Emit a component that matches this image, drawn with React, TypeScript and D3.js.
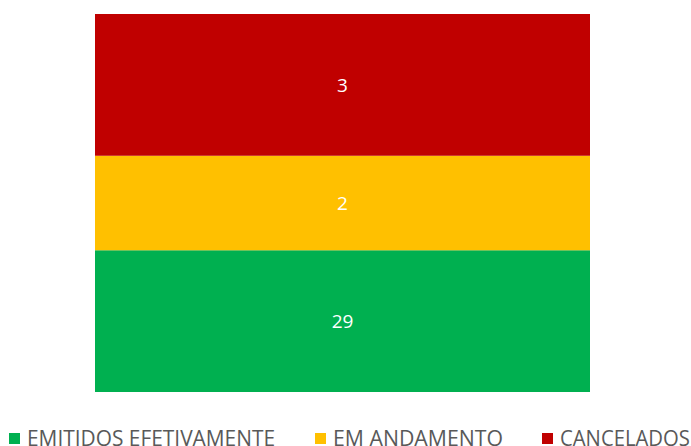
import React from "react";
import * as d3 from "d3";

const categories = ["Total"];
const seriesNames = ["EMITIDOS EFETIVAMENTE", "EM ANDAMENTO", "CANCELADOS"];
const seriesValues = [29, 2, 3];
const seriesColors = ["#00B050", "#FFC000", "#C00000"];
const axisMin = 26;
const axisMax = 34;

export default function App() {
  const W = 691, H = 446;
  const x = d3.scaleBand().domain(categories).range([95, 590]).padding(0);
  const y = d3.scaleLinear().domain([axisMin, axisMax]).range([392, 14]);
  const stacked: { name: string; y0: number; y1: number; v: number; c: string }[] = [];
  let acc = 0;
  seriesValues.forEach((v, i) => {
    stacked.push({ name: seriesNames[i], y0: acc, y1: acc + v, v, c: seriesColors[i] });
    acc += v;
  });
  const legendX = [9, 315, 542];
  const legendW = [248, 170, 130];
  return (
    <svg width={W} height={H} style={{ position: "absolute", left: 0, top: 0, fontFamily: "'Open Sans', sans-serif" }}>
      <rect width={W} height={H} fill="#fff" />
      {stacked.map((s) => {
        const top = y(Math.min(s.y1, axisMax));
        const bot = y(Math.max(s.y0, axisMin));
        return (
          <g key={s.name}>
            <rect x={x(categories[0])} y={top} width={x.bandwidth()} height={bot - top} fill={s.c} />
            <text x={x(categories[0])! + x.bandwidth() / 2} y={(top + bot) / 2} dy="0.36em" textAnchor="middle" fill="#fff" fontSize={19}>
              {s.v}
            </text>
          </g>
        );
      })}
      {seriesNames.map((n, i) => (
        <g key={n}>
          <rect x={legendX[i]} y={433} width={11} height={11} fill={seriesColors[i]} />
          <text x={legendX[i] + 18} y={446} fill="#595959" fontSize={22} textLength={legendW[i]} lengthAdjust="spacingAndGlyphs">{n}</text>
        </g>
      ))}
    </svg>
  );
}
